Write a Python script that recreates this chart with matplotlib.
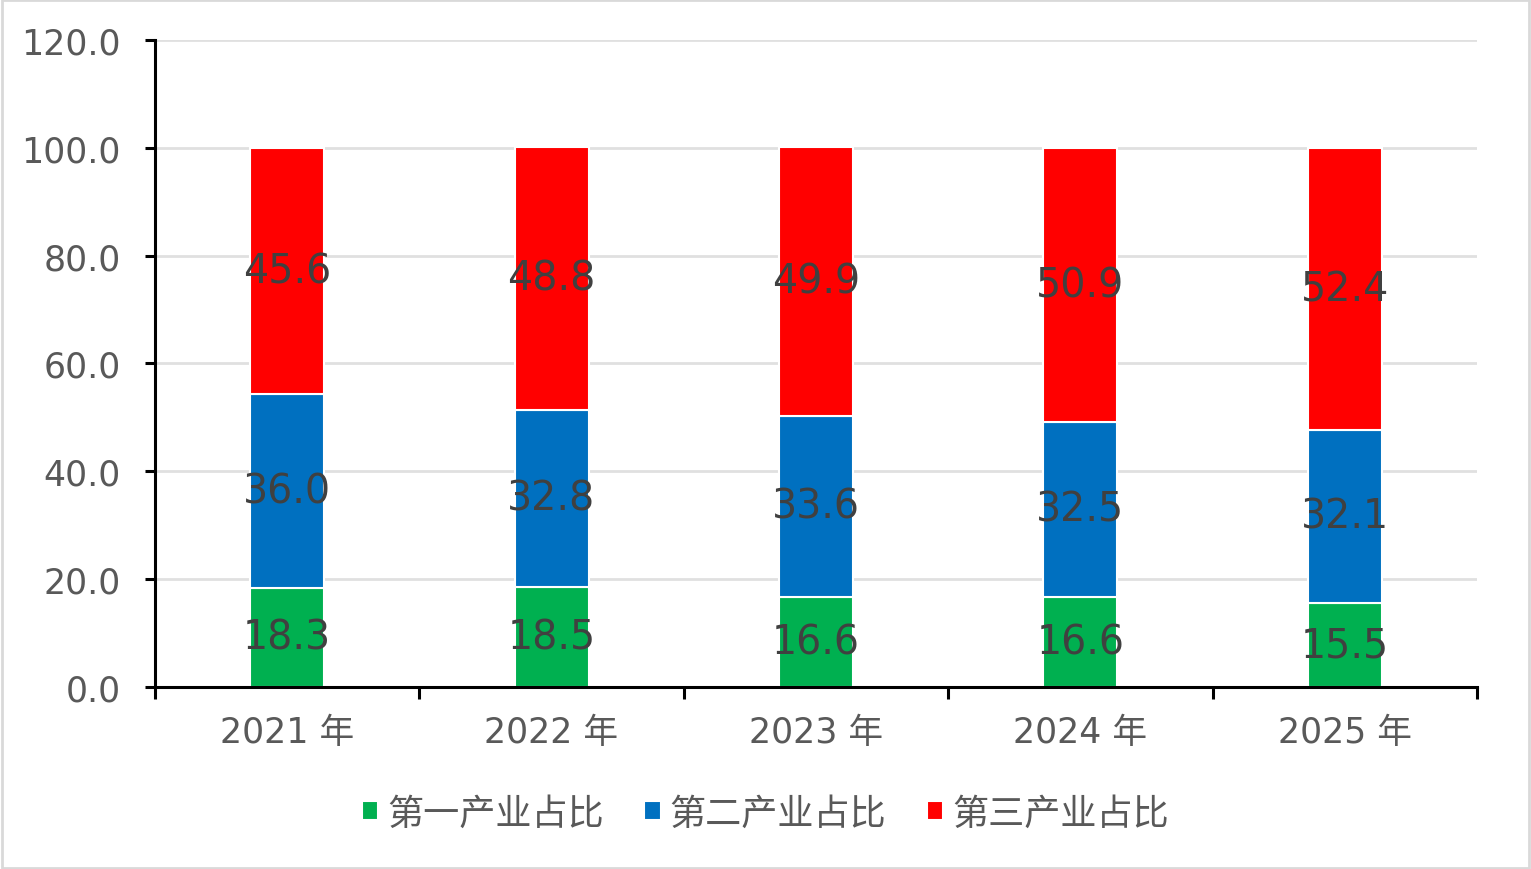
import matplotlib
matplotlib.use("Agg")
import matplotlib.pyplot as plt
from matplotlib.patches import Rectangle
import numpy as np

years = ["2021 年", "2022 年", "2023 年", "2024 年", "2025 年"]
primary = [18.3, 18.5, 16.6, 16.6, 15.5]
secondary = [36.0, 32.8, 33.6, 32.5, 32.1]
tertiary = [45.6, 48.8, 49.9, 50.9, 52.4]
series_names = ["第一产业占比", "第二产业占比", "第三产业占比"]
colors = ["#00B050", "#0070C0", "#FF0000"]

plt.rcParams['font.family'] = ['DejaVu Sans', 'Noto Sans CJK SC']

fig = plt.figure(figsize=(15.31, 8.70), dpi=100)
ax = fig.add_axes([0.1012, 0.2092, 0.8635, 0.7437])

x = np.arange(len(years))
width = 0.28
bottom = np.zeros(len(years))
for vals, name, c in zip([primary, secondary, tertiary], series_names, colors):
    ax.bar(x, vals, width, bottom=bottom, color=c, edgecolor="white",
           linewidth=1.5, label=name, zorder=3)
    for xi, b, v in zip(x, bottom, vals):
        ax.text(xi, b + v / 2, f"{v:.1f}", ha="center", va="center",
                fontsize=28.5, color="#404040", zorder=4)
    bottom = bottom + np.array(vals)

ax.set_xlim(-0.5, len(years) - 0.5)
ax.set_ylim(0, 120)
ax.set_yticks(np.arange(0, 121, 20))
ax.set_yticklabels([f"{v:.1f}" for v in np.arange(0, 121, 20)])
ax.set_xticks(x)
ax.set_xticklabels(years)
ax.set_xticks(np.arange(-0.5, len(years), 1), minor=True)
ax.tick_params(axis="x", which="major", length=0, pad=20, labelsize=25, labelcolor="#595959")
ax.tick_params(axis="x", which="minor", length=8.5, width=2.2, color="black")
ax.tick_params(axis="y", length=7.5, width=2.2, labelsize=25, labelcolor="#595959", pad=17)

ax.grid(axis="y", color="#E0E0E0", linewidth=2, zorder=0)
ax.set_axisbelow(True)
for s in ["top", "right"]:
    ax.spines[s].set_visible(False)
for s in ["left", "bottom"]:
    ax.spines[s].set_linewidth(2.2)
    ax.spines[s].set_color("black")
    ax.spines[s].set_zorder(5)

leg = fig.legend(loc="center", bbox_to_anchor=(0.5, 0.064), ncol=3, frameon=False,
                 fontsize=26, handlelength=0.45, handleheight=0.45, handletextpad=0.25,
                 columnspacing=1.12, labelcolor="#595959")

fig.patches.append(Rectangle((0.001, 0.001), 0.998, 0.998, transform=fig.transFigure,
                             fill=False, edgecolor="#D9D9D9", linewidth=2))

fig.savefig("out.png", dpi=100)
